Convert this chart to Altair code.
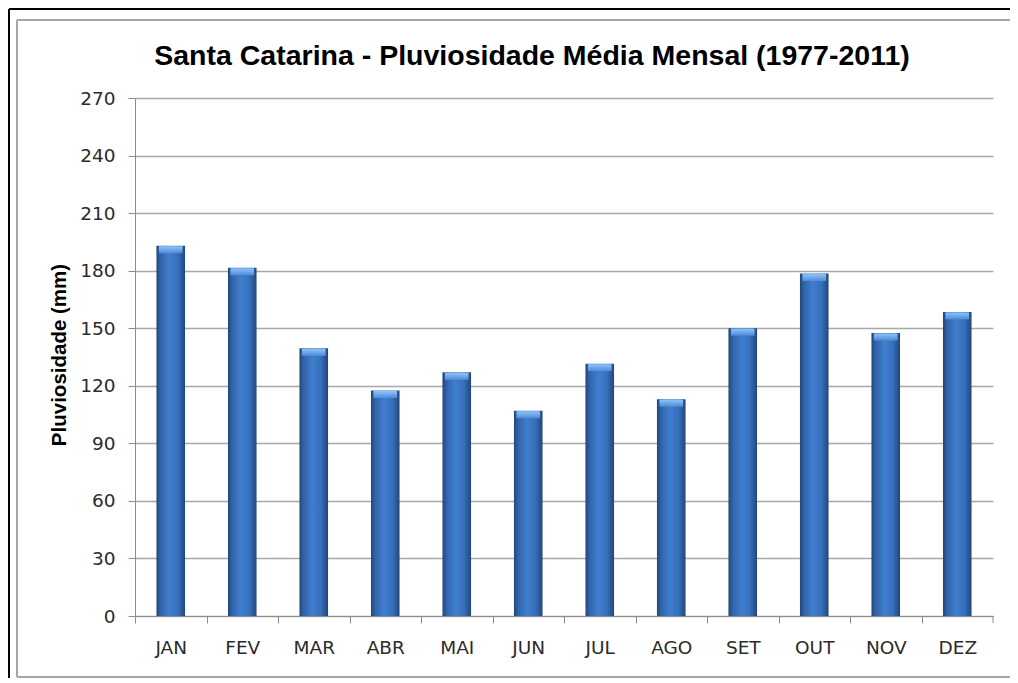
import altair as alt
import pandas as pd

months = ["JAN", "FEV", "MAR", "ABR", "MAI", "JUN", "JUL", "AGO", "SET", "OUT", "NOV", "DEZ"]
rain = [193, 181.5, 139.5, 117.5, 127, 107, 131.5, 113, 150, 178.5, 147.5, 158.5]
y_ticks = [0, 30, 60, 90, 120, 150, 180, 210, 240, 270]
title_text = "Santa Catarina - Pluviosidade Média Mensal (1977-2011)"
y_title = "Pluviosidade (mm)"

W, H = 858, 518
PL, PT, PR, PB = 127, 90, 17, 62
step = W / len(months)
barw = step * 0.4

df = pd.DataFrame({"mes": months, "mm": rain})

xenc = alt.X(
    "mes:N", sort=months, title=None,
    scale=alt.Scale(paddingInner=0, paddingOuter=0),
    axis=alt.Axis(
        labelAngle=0, labelFont="DejaVu Sans", labelFontSize=18.5, labelColor="#2b2b2b",
        labelPadding=15, tickSize=7, tickColor="#8c8c8c", domainColor="#8c8c8c",
        domainWidth=1, tickWidth=1, grid=False,
        tickOffset=-step / 2, labelOffset=step / 2,
    ),
)
yenc = alt.Y(
    "mm:Q", title=None,
    scale=alt.Scale(domain=[0, 270], nice=False),
    axis=alt.Axis(
        values=y_ticks, labelFont="DejaVu Sans", labelFontSize=18.5, labelColor="#2b2b2b",
        labelPadding=13, tickSize=7, tickColor="#8c8c8c", domainColor="#8c8c8c",
        domainWidth=1, tickWidth=1, grid=True, gridColor="#a8a8a8", gridWidth=1.6,
    ),
)

bar_grad = alt.Gradient(
    gradient="linear", x1=0, x2=1, y1=0, y2=0,
    stops=[
        alt.GradientStop(offset=0, color="#21467b"),
        alt.GradientStop(offset=0.15, color="#3264a9"),
        alt.GradientStop(offset=0.45, color="#3f7ecf"),
        alt.GradientStop(offset=0.75, color="#3770bb"),
        alt.GradientStop(offset=1, color="#22467b"),
    ],
)
cap_grad = alt.Gradient(
    gradient="linear", x1=0, x2=0, y1=0, y2=1,
    stops=[
        alt.GradientStop(offset=0, color="#90c3f8"),
        alt.GradientStop(offset=1, color="#4d8bd8"),
    ],
)

bars = alt.Chart(df).mark_bar(width=alt.RelativeBandSize(0.4), fill=bar_grad).encode(x=xenc, y=yenc)
caps = alt.Chart(df).mark_tick(size=barw - 5, thickness=7, yOffset=4, fill=cap_grad, opacity=1).encode(
    x=alt.X("mes:N", sort=months), y=alt.Y("mm:Q")
)

one = pd.DataFrame({"t": [title_text]})
title = alt.Chart(one).mark_text(
    font="Liberation Sans", fontSize=28.5, fontWeight="bold", color="#000000",
    align="center", baseline="middle",
).encode(text="t:N", x=alt.value(397), y=alt.value(-42))

ytl = alt.Chart(pd.DataFrame({"t": [y_title]})).mark_text(
    font="Liberation Sans", fontSize=20.5, fontWeight="bold", color="#000000",
    align="center", baseline="middle", angle=270,
).encode(text="t:N", x=alt.value(-75), y=alt.value(257))

frame = pd.DataFrame({"k": [0]})
black_left = alt.Chart(frame).mark_rule(color="#000000", strokeWidth=2).encode(
    x=alt.value(-126), y=alt.value(-89), y2=alt.value(600))
black_top = alt.Chart(frame).mark_rule(color="#000000", strokeWidth=2).encode(
    x=alt.value(-126), x2=alt.value(900), y=alt.value(-89))
gray_left = alt.Chart(frame).mark_rule(color="#a6a6a6", strokeWidth=2).encode(
    x=alt.value(-118), y=alt.value(-78), y2=alt.value(579))
gray_top = alt.Chart(frame).mark_rule(color="#a6a6a6", strokeWidth=2).encode(
    x=alt.value(-118), x2=alt.value(900), y=alt.value(-78))
gray_bottom = alt.Chart(frame).mark_rule(color="#a6a6a6", strokeWidth=2).encode(
    x=alt.value(-118), x2=alt.value(900), y=alt.value(579))
end_tick = alt.Chart(frame).mark_rule(color="#8c8c8c", strokeWidth=1).encode(
    x=alt.value(W), y=alt.value(H), y2=alt.value(H + 7))

chart = alt.layer(
    black_left, black_top, gray_left, gray_top, gray_bottom,
    bars, caps, end_tick, title, ytl,
).properties(
    width=W, height=H,
    autosize=alt.AutoSizeParams(type="none"),
    padding={"left": PL, "top": PT, "right": PR, "bottom": PB},
    background="#ffffff",
).configure_view(stroke=None)

chart.save("out.html", embed_options={"renderer": "svg", "actions": False})
